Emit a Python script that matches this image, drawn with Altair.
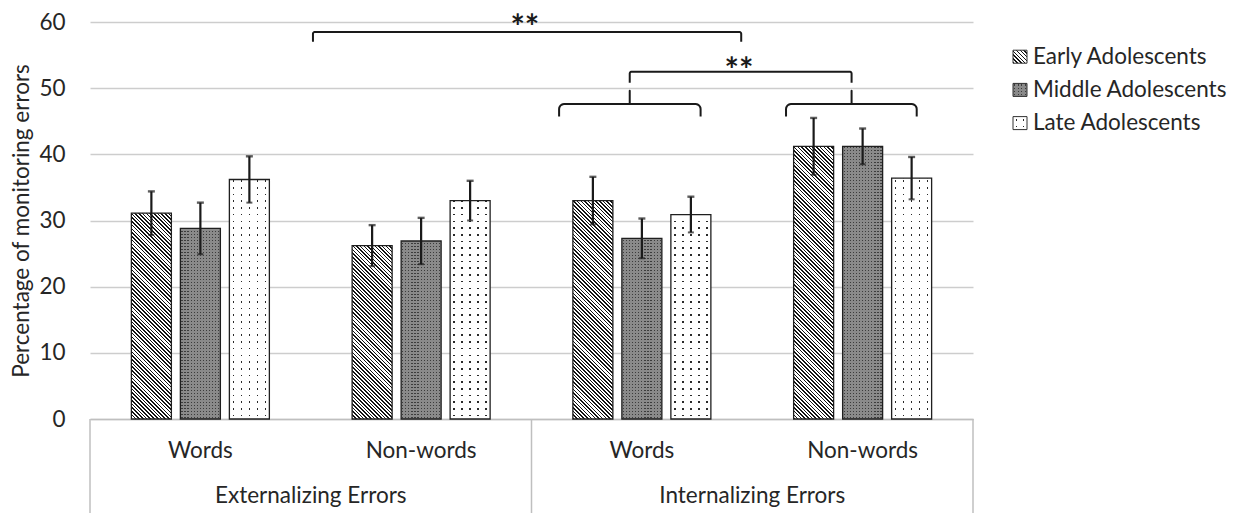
import math

import altair as alt
import pandas as pd

# ---------------------------------------------------------------- data
ERROR_TYPES = ["Externalizing Errors", "Internalizing Errors"]
STIMULI = ["Words", "Non-words"]
GROUPS = ["Early Adolescents", "Middle Adolescents", "Late Adolescents"]

# mean % of monitoring errors per condition:
# Ext-Words, Ext-Non-words, Int-Words, Int-Non-words
EARLY_MEAN = [31.1, 26.2, 33.0, 41.2]
MIDDLE_MEAN = [28.8, 26.9, 27.3, 41.2]
LATE_MEAN = [36.2, 33.0, 30.9, 36.4]

# half-length of the error bars
EARLY_ERR = [3.3, 3.1, 3.6, 4.3]
MIDDLE_ERR = [3.9, 3.5, 3.0, 2.7]
LATE_ERR = [3.5, 3.0, 2.7, 3.2]

Y_TICKS = [0, 10, 20, 30, 40, 50, 60]
Y_TITLE = "Percentage of monitoring errors"
SIG = "**"

# significance annotations: x in condition units (0..4), y in percent
BRACKETS = [(1.01, 2.95, 58.5, 57.0), (2.445, 3.45, 52.5, 50.8)]
BRACES = [(2.125, 2.766, 2.445, 47.6, 45.7, 49.6),
          (3.153, 3.745, 3.45, 47.6, 45.7, 49.6)]
STARS = [(1.97, 57.4), (2.94, 50.95)]   # text baseline positions

# ---------------------------------------------------------------- layout
PLOT_W, PLOT_H = 883, 397
PAD = {"left": 90, "top": 22, "right": 278, "bottom": 94}
Y_MAX = 60
BAR_W, BAR_GAP = 40, 9
FONT = "Lato"
FS = 22.5
INK = "#262626"
GRID = "#cdcdcd"
FRAME = "#bfbfbf"
LINE = "#1a1a1a"

cond_step = PLOT_W / len(ERROR_TYPES) / len(STIMULI)
off_step = BAR_W + BAR_GAP
pad_in = BAR_GAP / off_step
pad_out = (cond_step / off_step - len(GROUPS) + pad_in) / 2
px_per_pct = PLOT_H / Y_MAX

conds = [f"{e}|{s}" for e in ERROR_TYPES for s in STIMULI]
means = [EARLY_MEAN, MIDDLE_MEAN, LATE_MEAN]
errs = [EARLY_ERR, MIDDLE_ERR, LATE_ERR]
rows_ = []
for gi, g in enumerate(GROUPS):
    for ci, c in enumerate(conds):
        m, e = means[gi][ci], errs[gi][ci]
        rows_.append(dict(cond=c, ci=ci, group=g, gi=gi, mean=m, lo=m - e, hi=m + e))
bars = pd.DataFrame(rows_)


# ---------------------------------------------------------------- fills
def stop(color, offset):
    return alt.GradientStop(color=color, offset=round(min(max(offset, 0.0), 1.0), 5))


def hatch(w, h, spacing=3.7, frac=0.42, ink="#141414", paper="#ffffff"):
    """45-degree back-slash stripes for a w x h pixel box."""
    k = (w + h) / (w * w + h * h)
    n = max(1, round((w + h) / spacing))
    stops = []
    for i in range(n):
        a, b, c = i / n, (i + frac) / n, (i + 1) / n
        stops += [stop(ink, a), stop(ink, b), stop(paper, b), stop(paper, c)]
    return alt.LinearGradient(gradient="linear", stops=stops,
                              x1=0, y1=1, x2=k * w, y2=1 - k * h)


def columns(n, frac, ink, paper):
    stops = []
    for i in range(n):
        a = (i + 0.5 - frac / 2) / n
        b = (i + 0.5 + frac / 2) / n
        stops += [stop(paper, i / n), stop(paper, a), stop(ink, a),
                  stop(ink, b), stop(paper, b), stop(paper, (i + 1) / n)]
    return alt.LinearGradient(gradient="linear", stops=stops, x1=0, y1=0, x2=1, y2=0)


def row_mask(h, spacing, gap, paper):
    """Opaque rows with thin clear gaps; over columns this leaves dots."""
    clear = "rgba(255,255,255,0)"
    stops = []
    i = 0
    while i * spacing < h:
        s0 = i * spacing / h
        a = (i * spacing + spacing / 2 - gap / 2) / h
        b = (i * spacing + spacing / 2 + gap / 2) / h
        e = (i + 1) * spacing / h
        stops += [stop(paper, s0), stop(paper, a), stop(clear, a),
                  stop(clear, b), stop(paper, b), stop(paper, e)]
        i += 1
    return alt.LinearGradient(gradient="linear", stops=stops, x1=0, y1=1, x2=0, y2=0)


MID_PAPER, MID_INK = "#8a8a8a", "#3c3c3c"
LATE_PAPER, LATE_INK = "#ffffff", "#2a2a2a"

# ---------------------------------------------------------------- encodings
x_axis = alt.Axis(title=None, labelExpr="split(datum.value, '|')[1]", labelAngle=0,
                  ticks=False, domainColor=FRAME, domainWidth=1.5, grid=False,
                  labelFontSize=FS, labelColor=INK, labelPadding=20, labelFont=FONT)
y_axis = alt.Axis(values=Y_TICKS, title=Y_TITLE, grid=True, gridColor=GRID, gridWidth=1.5,
                  domain=False, ticks=False, labelFontSize=FS, labelColor=INK,
                  labelPadding=25, labelFont=FONT, titleFont=FONT, titleFontSize=FS,
                  titleFontWeight="normal", titleColor=INK, titlePadding=5)


def X():
    return alt.X("cond:N", sort=conds, axis=x_axis,
                 scale=alt.Scale(domain=conds, paddingInner=0, paddingOuter=0))


XO = alt.XOffset("group:N", sort=GROUPS,
                 scale=alt.Scale(domain=GROUPS, paddingInner=pad_in, paddingOuter=pad_out))
YS = alt.Scale(domain=[0, Y_MAX], nice=False)


def Y(field="mean"):
    return alt.Y(f"{field}:Q", scale=YS, axis=y_axis)


def one_bar(ci, gi, fill):
    return (alt.Chart(bars)
            .transform_filter((alt.datum.ci == ci) & (alt.datum.gi == gi))
            .mark_bar(fill=fill, strokeWidth=0)
            .encode(x=X(), xOffset=XO, y=Y()))


def group_bars(gi, fill):
    return (alt.Chart(bars).transform_filter(alt.datum.gi == gi)
            .mark_bar(fill=fill, strokeWidth=0)
            .encode(x=X(), xOffset=XO, y=Y()))


layers = []
# early: diagonal hatching
for ci in range(len(conds)):
    h = EARLY_MEAN[ci] * px_per_pct
    layers.append(one_bar(ci, 0, hatch(BAR_W, h)))
# middle: grey with dark dots
layers.append(group_bars(1, columns(13, 0.4, MID_INK, MID_PAPER)))
for ci in range(len(conds)):
    h = MIDDLE_MEAN[ci] * px_per_pct
    layers.append(one_bar(ci, 1, row_mask(h, 3.0, 1.2, MID_PAPER)))
# late: white with sparse dots
layers.append(group_bars(2, columns(5, 0.2, LATE_INK, LATE_PAPER)))
for ci in range(len(conds)):
    h = LATE_MEAN[ci] * px_per_pct
    layers.append(one_bar(ci, 2, row_mask(h, 6.7, 1.6, LATE_PAPER)))

outline = (alt.Chart(bars)
           .mark_bar(fillOpacity=0, stroke="#1f1f1f", strokeWidth=1.3)
           .encode(x=X(), xOffset=XO, y=Y()))
err_rule = (alt.Chart(bars).mark_rule(color=LINE, strokeWidth=2.2)
            .encode(x=X(), xOffset=XO, y=Y("lo"), y2="hi:Q"))
cap_hi = (alt.Chart(bars).mark_tick(color=LINE, thickness=2.4, size=7)
          .encode(x=X(), xOffset=XO, y=Y("hi")))
cap_lo = (alt.Chart(bars).mark_tick(color=LINE, thickness=2.0, size=6)
          .encode(x=X(), xOffset=XO, y=Y("lo")))
bar_layer = alt.layer(*layers, outline, err_rule, cap_hi, cap_lo)

# ---------------------------------------------------------------- annotations
XQ = alt.Scale(domain=[0, len(conds)], nice=False, zero=False)


def XA():
    return alt.X("x:Q", scale=XQ, axis=None)


def arc(cx, cy, rx, ry, a0, a1, n=6):
    out = []
    for j in range(n + 1):
        a = math.radians(a0 + (a1 - a0) * j / n)
        out.append((cx + rx * math.cos(a), cy + ry * math.sin(a)))
    return out


def bracket_path(x0, x1, yb, ye, r_px, tip=None):
    rx, ry = r_px / cond_step, r_px / px_per_pct
    pts = [(x0, ye)] + arc(x0 + rx, yb - ry, rx, ry, 180, 90)
    if tip is not None:
        xt, yt = tip
        pts += [(xt, yb), (xt, yt), (xt, yb)]
    pts += arc(x1 - rx, yb - ry, rx, ry, 90, 0) + [(x1, ye)]
    return pts


paths = []
for k, (x0, x1, yb, ye) in enumerate(BRACKETS):
    for o, (x, y) in enumerate(bracket_path(x0, x1, yb, ye, 2.0)):
        paths.append(dict(id=f"b{k}", ord=o, x=x, y=y))
for k, (x0, x1, xt, yb, ye, yt) in enumerate(BRACES):
    for o, (x, y) in enumerate(bracket_path(x0, x1, yb, ye, 5.0, tip=(xt, yt))):
        paths.append(dict(id=f"c{k}", ord=o, x=x, y=y))
paths = pd.DataFrame(paths)

sig_lines = (alt.Chart(paths).mark_line(color=LINE, strokeWidth=2.0, strokeJoin="round")
             .encode(x=XA(), y=alt.Y("y:Q", scale=YS, axis=y_axis),
                     detail="id:N", order="ord:Q"))
stars = pd.DataFrame({"x": [s[0] for s in STARS], "y": [s[1] for s in STARS],
                      "t": [SIG] * len(STARS)})
sig_text = (alt.Chart(stars)
            .mark_text(fontSize=34, fontWeight="bold", color=LINE, baseline="alphabetic")
            .encode(x=XA(), y=alt.Y("y:Q", scale=YS, axis=y_axis), text="t:N"))

# two-level category frame below the axis
bounds = pd.DataFrame({"x": [0, len(STIMULI), len(conds)]})
frame = (alt.Chart(bounds).mark_rule(color=FRAME, strokeWidth=1.5)
         .encode(x=XA(), y=alt.value(PLOT_H), y2=alt.value(PLOT_H + PAD["bottom"])))
types = pd.DataFrame({"name": ERROR_TYPES,
                      "x": [len(STIMULI) * (i + 0.5) for i in range(len(ERROR_TYPES))]})
type_labels = (alt.Chart(types).mark_text(fontSize=FS, color=INK, baseline="middle")
               .encode(x=XA(), y=alt.value(474), text="name:N"))

# legend
LEG_X, LEG_Y0, LEG_DY, SW_W, SW_H = 923, 34.7, 33.2, 14, 13
swatch_fills = [
    [hatch(SW_W, SW_H, spacing=3.7)],
    [columns(4, 0.4, MID_INK, MID_PAPER), row_mask(SW_H, 3.25, 1.3, MID_PAPER)],
    [columns(2, 0.16, LATE_INK, LATE_PAPER), row_mask(SW_H, 6.5, 1.6, LATE_PAPER)],
]
legend = []
for gi, g in enumerate(GROUPS):
    cy = LEG_Y0 + gi * LEG_DY
    one = pd.DataFrame({"group": [g]})
    box = dict(x=alt.value(LEG_X), x2=alt.value(LEG_X + SW_W),
               y=alt.value(cy - SW_H / 2), y2=alt.value(cy + SW_H / 2))
    for f in swatch_fills[gi]:
        legend.append(alt.Chart(one).mark_rect(fill=f, strokeWidth=0).encode(**box))
    legend.append(alt.Chart(one).mark_rect(fillOpacity=0, stroke="#333333", strokeWidth=1)
                  .encode(**box))
    legend.append(alt.Chart(one).mark_text(align="left", baseline="middle", fontSize=FS, color=INK)
                  .encode(x=alt.value(LEG_X + SW_W + 6), y=alt.value(cy), text="group:N"))

annot_layer = alt.layer(sig_lines, sig_text, frame, type_labels, *legend)

chart = (alt.layer(bar_layer, annot_layer)
         .resolve_scale(x="independent")
         .properties(width=PLOT_W, height=PLOT_H, padding=PAD,
                     autosize=alt.AutoSizeParams(type="none"), background="white")
         .configure(font=FONT)
         .configure_view(stroke=None))

chart.save("out.html", embed_options={"renderer": "svg", "actions": False})
